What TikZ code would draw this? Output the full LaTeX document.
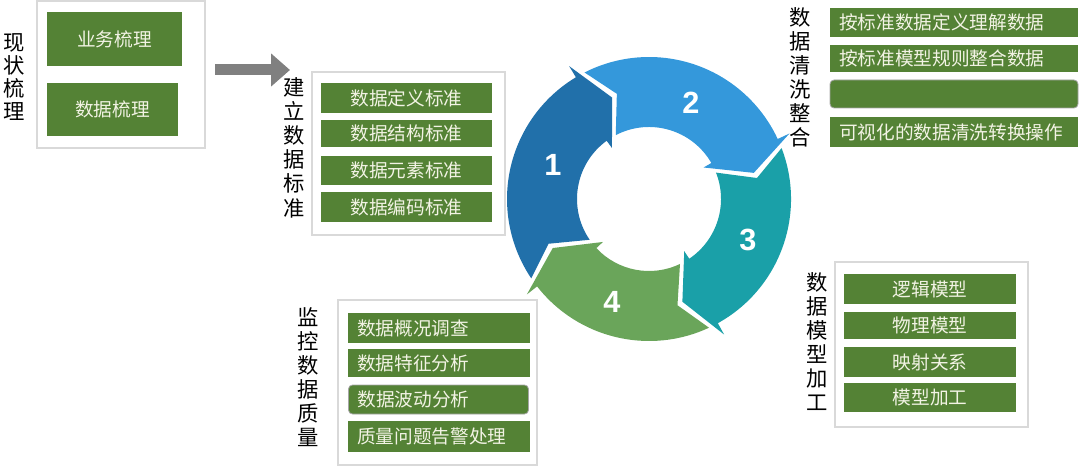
\documentclass[tikz,border=0pt]{standalone}
\usepackage{fontspec}
\setmainfont{Noto Sans CJK SC}
\newfontfamily\numfont{Liberation Sans}
\usetikzlibrary{arrows.meta}
\newlength\pxu
\setlength\pxu{0.75pt}
\definecolor{boxgreen}{RGB}{84,130,53}
\definecolor{boxtext}{RGB}{242,243,228}
\definecolor{framegray}{RGB}{217,217,217}
\definecolor{arrowgray}{RGB}{128,128,128}
\definecolor{segone}{RGB}{33,112,170}
\definecolor{segtwo}{RGB}{52,152,219}
\definecolor{segthree}{RGB}{26,160,168}
\definecolor{segfour}{RGB}{106,165,90}

\begin{document}
\begin{tikzpicture}[x=0.75pt, y=-0.75pt,
  frame/.style={draw=framegray, line width=0.8pt},
  greenbox/.style={fill=boxgreen, text=boxtext, inner sep=0pt,
    font=\fontsize{14}{16}\selectfont},
  leftbox/.style={greenbox, align=left, inner xsep=9\pxu},
  roundbox/.style={rounded corners=4\pxu, draw=black!35, line width=0.6pt},
  vlabel/.style={align=center, inner sep=0pt, font=\fontsize{16}{18}\selectfont},
  num/.style={text=white, font=\numfont\bfseries\fontsize{23}{23}\selectfont},
  blockarrow/.style={draw=arrowgray, line width=8.25pt,
    -{Triangle[length=14.25pt, width=24pt]}}]
  \useasboundingbox (0,0) rectangle (1080,466);

  % current state
  \draw[frame] (37,1) rectangle (205,148);
  \node[vlabel, font=\fontsize{16}{17.25}\selectfont] (curlbl) at (14,77.5) {现\\状\\梳\\理};
  \node[greenbox, minimum width=135\pxu, minimum height=54\pxu] (cur1) at (114.5,39) {业务梳理};
  \node[greenbox, minimum width=131\pxu, minimum height=53\pxu] (cur2) at (112.5,109.5) {数据梳理};

  \coordinate (arrS) at (215,70);
  \coordinate (arrE) at (290,70);
  \draw[blockarrow] (arrS) -- (arrE);

  % standards
  \draw[frame] (312,72) rectangle (505,235);
  \node[vlabel, font=\fontsize{16}{18.15}\selectfont] (stdlbl) at (294,147.5) {建\\立\\数\\据\\标\\准};
  \node[greenbox, minimum width=171\pxu, minimum height=30\pxu] (std1) at (406.5,98) {数据定义标准};
  \node[greenbox, minimum width=171\pxu, minimum height=27\pxu] (std2) at (406.5,133.5) {数据结构标准};
  \node[greenbox, minimum width=171\pxu, minimum height=29\pxu] (std3) at (406.5,170.5) {数据元素标准};
  \node[greenbox, minimum width=171\pxu, minimum height=30\pxu] (std4) at (406.5,207) {数据编码标准};

  % cleansing
  \node[vlabel] (clnlbl) at (800,77) {数\\据\\清\\洗\\整\\合};
  \node[leftbox, text width=230\pxu, minimum height=29\pxu] (cln1) at (954,22.5) {按标准数据定义理解数据};
  \node[leftbox, text width=230\pxu, minimum height=27\pxu] (cln2) at (954,58.5) {按标准模型规则整合数据};
  \node[leftbox, roundbox, text width=230\pxu, minimum height=28\pxu] (cln3) at (954,94) {};
  \node[leftbox, text width=230\pxu, minimum height=30\pxu] (cln4) at (954,132) {可视化的数据清洗转换操作};

  % monitoring
  \draw[frame] (338,300) rectangle (537,465);
  \node[vlabel] (monlbl) at (308,377) {监\\控\\数\\据\\质\\量};
  \node[leftbox, text width=164\pxu, minimum height=30\pxu] (mon1) at (439,328) {数据概况调查};
  \node[leftbox, text width=164\pxu, minimum height=28\pxu] (mon2) at (439,363) {数据特征分析};
  \node[leftbox, roundbox, text width=162\pxu, minimum height=29\pxu] (mon3) at (438.5,399.5) {数据波动分析};
  \node[leftbox, text width=164\pxu, minimum height=31\pxu] (mon4) at (439,436.5) {质量问题告警处理};

  % modelling
  \draw[frame] (835,262) rectangle (1028,427);
  \node[vlabel] (mdllbl) at (817,342) {数\\据\\模\\型\\加\\工};
  \node[greenbox, minimum width=172\pxu, minimum height=30\pxu] (mdl1) at (930,289) {逻辑模型};
  \node[greenbox, minimum width=172\pxu, minimum height=27\pxu] (mdl2) at (930,325.5) {物理模型};
  \node[greenbox, minimum width=172\pxu, minimum height=30\pxu] (mdl3) at (930,362) {映射关系};
  \node[greenbox, minimum width=172\pxu, minimum height=29\pxu] (mdl4) at (930,397.5) {模型加工};

  % cycle
  \begin{scope}[shift={(649,199)}, yscale=-1]
    \foreach \ta/\th/\col in {207/110/segone, 110/14/segtwo, 14/-72/segthree, -72/-153/segfour}
      \fill[\col] ({\ta+7}:142) arc[start angle=\ta+7, end angle=\th+11, radius=142]
        -- ({\th+11}:155) -- (\th:108) -- ({\th+16}:63) -- ({\th+16}:72)
        arc[start angle=\th+16, end angle=\ta+7.5, radius=72]
        -- ({\ta-3}:110) -- cycle;
  \end{scope}
  \node[num] (n1) at (553,165) {1};
  \node[num] (n2) at (691,103) {2};
  \node[num] (n3) at (748,240) {3};
  \node[num] (n4) at (612,302) {4};
\end{tikzpicture}
\end{document}
